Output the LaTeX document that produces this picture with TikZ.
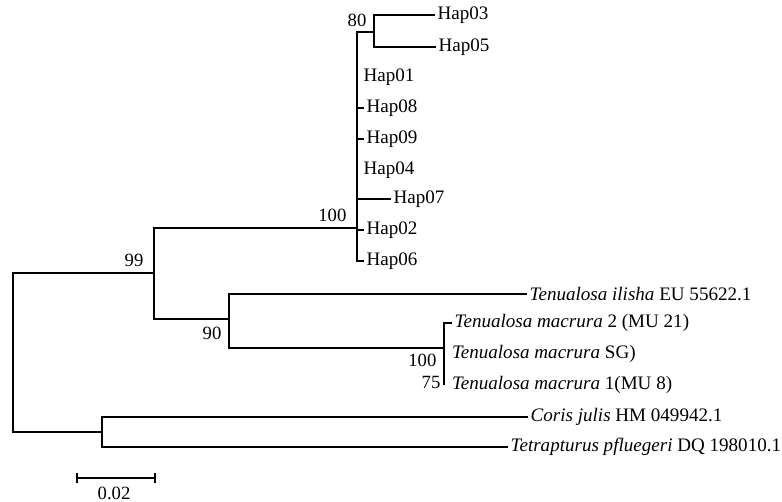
\documentclass[tikz,border=0pt]{standalone}
\usepackage{fontspec}
\setmainfont{Liberation Serif}
\usepackage{tikz}
\usetikzlibrary{positioning}
\tikzset{
  branch/.style={line width=1.4pt},
  leaf/.style={anchor=west,inner sep=1.8pt,font=\fontsize{14.3}{16}\selectfont},
  boot/.style={anchor=east,inner sep=1pt,font=\fontsize{14}{16}\selectfont}
}
\begin{document}
\begin{tikzpicture}[x=0.75pt,y=-0.75pt]
        \useasboundingbox (0,0) rectangle (782,502);
        \coordinate (root) at (13,352);
        \coordinate (n99) at (154,273);
        \coordinate (n100) at (357,228);
        \coordinate (n80) at (374,32);
        \coordinate (n90) at (229,319);
        \coordinate (nmac) at (444,348);
        \coordinate (nout) at (102,432);
        \coordinate (hap03) at (435,15);
        \coordinate (hap05) at (436,47);
        \coordinate (hap01) at (357,77);
        \coordinate (hap08) at (364,108);
        \coordinate (hap09) at (364,139);
        \coordinate (hap04) at (357,170);
        \coordinate (hap07) at (391,199);
        \coordinate (hap02) at (364,230);
        \coordinate (hap06) at (364,261);
        \coordinate (ilisha) at (527,294);
        \coordinate (mac2) at (452,323);
        \coordinate (macsg) at (444,354);
        \coordinate (mac1) at (444,385);
        \coordinate (coris) at (528,417);
        \coordinate (tetra) at (508,447);
        \draw[branch](root)|-(n99);
        \draw[branch](root)|-(nout);
        \draw[branch](n99)|-(n100);
        \draw[branch](n99)|-(n90);
        \draw[branch](n100)|-(n80);
        \draw[branch](n80)|-(hap03);
        \draw[branch](n80)|-(hap05);
        \draw[branch](n100)|-(hap08);
        \draw[branch](n100)|-(hap09);
        \draw[branch](n100)|-(hap07);
        \draw[branch](n100)|-(hap02);
        \draw[branch](n100)|-(hap06);
        \draw[branch](n90)|-(ilisha);
        \draw[branch](n90)|-(nmac);
        \draw[branch](nmac)|-(mac2);
        \draw[branch](nmac)|-(mac1);
        \draw[branch](nout)|-(coris);
        \draw[branch](nout)|-(tetra);
        \node[leaf](lhap03) at (hap03){Hap03};
        \node[leaf](lhap05) at (hap05){Hap05};
        \node[leaf,xshift=3pt](lhap01) at (hap01){Hap01};
        \node[leaf](lhap08) at (hap08){Hap08};
        \node[leaf](lhap09) at (hap09){Hap09};
        \node[leaf,xshift=3pt](lhap04) at (hap04){Hap04};
        \node[leaf](lhap07) at (hap07){Hap07};
        \node[leaf](lhap02) at (hap02){Hap02};
        \node[leaf](lhap06) at (hap06){Hap06};
        \node[leaf](lilisha) at (ilisha){\textit{Tenualosa ilisha} EU 55622.1};
        \node[leaf](lmac2) at (mac2){\textit{Tenualosa macrura} 2 (MU 21)};
        \node[leaf,xshift=4pt](lmacsg) at (macsg){\textit{Tenualosa macrura} SG)};
        \node[leaf,xshift=4pt](lmac1) at (mac1){\textit{Tenualosa macrura} 1(MU 8)};
        \node[leaf](lcoris) at (coris){\textit{Coris julis} HM 049942.1};
        \node[leaf](ltetra) at (tetra){\textit{Tetrapturus pfluegeri} DQ 198010.1};
        \node[boot](b80) at (368,20){80};
        \node[boot](b100) at (348,215){100};
        \node[boot](b99) at (145,260){99};
        \node[boot](b90) at (223,333){90};
        \node[boot](bmac) at (438,360){100};
        \node[boot](b75) at (442,382){75};
        \coordinate (sb1) at (77,478);
        \coordinate (sb2) at (155,478);
        \draw[branch](sb1)--(sb2);
        \draw[branch]([yshift=-3.75pt]sb1)--([yshift=3.75pt]sb1);
        \draw[branch]([yshift=-3.75pt]sb2)--([yshift=3.75pt]sb2);
        \node[boot,anchor=center](scale) at (114,493){0.02};
    \end{tikzpicture}
\end{document}
